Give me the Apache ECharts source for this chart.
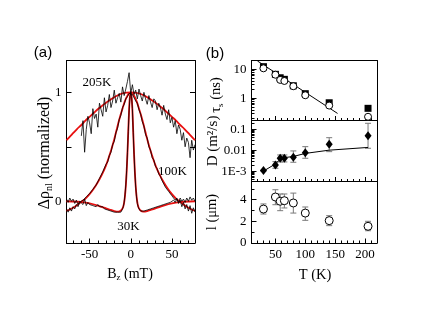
<!DOCTYPE html>
<html><head><meta charset="utf-8">
<script src="https://cdn.jsdelivr.net/npm/echarts@6/dist/echarts.min.js"></script>
<style>html,body{margin:0;padding:0;background:#fff}#c{width:436px;height:315px}</style>
</head><body><div id="c"></div>
<script>
// ===== Panel (a): B_z (mT) vs normalized Δρ_nl =====
const b205X = [-60,-58,-56,-54,-52,-50,-48,-46,-44,-42,-40,-38,-36,-34,-32,-30,-28,-26,-24,-22,-20,-18,-16,-14,-12,-10,-8,-6,-4,-2,0,2,4,6,8,10,12,14,16,18,20,22,24,26,28,30,32,34,36,38,40,42,44,46,48,50,52,54,56,58,60,62,64,66,68,70,72,74,76,78];
const b205Y = [0.60,0.74,0.45,0.66,0.78,0.72,0.62,0.85,0.76,0.80,
  0.68,0.90,0.84,0.78,0.95,0.82,0.88,0.98,0.86,0.92,
  1.02,0.90,0.95,0.99,0.91,1.05,0.97,1.03,1.10,1.18,
  0.99,1.07,0.98,1.02,0.94,1.03,0.97,0.92,1.00,0.94,
  0.89,0.97,0.91,0.86,0.94,0.92,0.84,0.90,0.86,0.79,
  0.88,0.80,0.75,0.84,0.72,0.77,0.68,0.74,0.62,0.70,
  0.66,0.56,0.63,0.50,0.58,0.54,0.40,0.56,0.47,0.52];
const b100X = [-78,-76,-74,-72,-70,-68,-66,-64,-62,-60,-58,-56,-54,-52,-50,-48,-46,-44,-42,-40,-38,-36,-34,-32,-30,-28,-26,-24,-22,-20,-18,-16,-14,-12,-10,-8,-6,-4,-2,0,2,4,6,8,10,12,14,16,18,20,22,24,26,28,30,32,34,36,38,40,42,44,46,48,50,52,54,56,58,60,62,64,66,68,70,72,74,76,78];
const b100Y = [-0.07,-0.10,-0.06,-0.09,-0.05,-0.07,-0.03,-0.05,-0.01,-0.02,
  0.01,0.00,0.04,0.03,0.07,0.07,0.11,0.11,0.15,0.16,
  0.21,0.22,0.27,0.28,0.34,0.36,0.42,0.45,0.52,0.55,
  0.63,0.67,0.75,0.79,0.86,0.89,0.94,0.96,0.99,1.00,
  0.98,0.97,0.92,0.90,0.84,0.80,0.73,0.69,0.61,0.58,
  0.50,0.47,0.40,0.38,0.32,0.30,0.25,0.23,0.19,0.18,
  0.13,0.13,0.09,0.09,0.05,0.05,0.01,0.03,-0.02,0.01,
  -0.05,-0.01,-0.07,-0.03,-0.09,-0.04,-0.11,-0.06,-0.10];
const b30X = [-78,-76,-74,-72,-70,-68,-66,-64,-62,-60,-58,-56,-54,-52,-50,-48,-46,-44,-42,-40,-38,-36,-34,-32,-30,-28,-26,-24,-22,-20,-18,-16,-14,-12,-10,
  -9,-8,-7,-6,-5,-4,-3,-2,-1,0,1,2,3,4,5,6,7,8,9,
  10,12,14,16,18,20,22,24,26,28,30,32,34,36,38,40,42,44,46,48,50,52,54,56,58,60,62,64,66,68,70,72,74,76,78];
const b30Y = [0.02,-0.01,0.03,0.00,0.02,-0.02,0.01,-0.03,0.00,0.01,
  -0.03,0.02,-0.04,-0.01,-0.03,-0.02,-0.04,-0.03,-0.05,-0.03,
  -0.05,-0.06,-0.05,-0.07,-0.06,-0.08,-0.07,-0.09,-0.08,-0.10,
  -0.09,-0.10,-0.09,-0.10,-0.07,
  -0.05,-0.01,0.06,0.15,0.28,0.45,0.64,0.83,0.95,1.00,0.96,0.85,0.63,0.43,0.26,0.13,0.04,-0.02,-0.05,
  -0.07,-0.09,-0.10,-0.09,-0.10,-0.08,-0.09,-0.07,-0.08,-0.06,
  -0.07,-0.05,-0.06,-0.04,-0.05,-0.03,-0.04,-0.02,-0.03,-0.01,
  -0.02,0.01,-0.01,0.02,-0.01,0.03,0.00,0.02,-0.01,0.03,
  0.00,0.04,0.01,0.03,0.00];
const fit205X = [-78,-75,-70,-65,-60,-55,-50,-45,-40,-35,-30,-25,-20,-15,-10,-5,0,5,10,15,20,25,30,35,40,45,50,55,60,65,70,75,78];
const fit205Y = [0.56,0.585,0.625,0.665,0.70,0.74,0.775,0.81,0.845,0.875,0.905,0.93,0.955,0.975,0.99,0.997,1.0,0.997,0.99,0.975,0.955,0.93,0.905,0.875,0.845,0.81,0.775,0.74,0.70,0.665,0.625,0.585,0.56];
const fit100X = [-78,-75,-70,-65,-60,-55,-50,-45,-40,-35,-30,-25,-20,-17.5,-15,-12.5,-10,-7.5,-5,-2.5,0,2.5,5,7.5,10,12.5,15,17.5,20,25,30,35,40,45,50,55,60,65,70,75,78];
const fit100Y = [-0.085,-0.08,-0.06,-0.035,-0.005,0.025,0.065,0.115,0.175,0.245,0.33,0.44,0.57,0.645,0.72,0.79,0.85,0.91,0.955,0.988,1.0,0.988,0.955,0.91,0.85,0.79,0.72,0.645,0.57,0.44,0.33,0.245,0.175,0.115,0.065,0.025,-0.005,-0.035,-0.06,-0.08,-0.085];
const fit30X = [-78,-70,-60,-50,-40,-30,-25,-20,-15,-12,-10,-9,-8,-7,-6,-5,-4,-3,-2,-1,0,1,2,3,4,5,6,7,8,9,10,12,15,20,25,30,40,50,60,70,78];
const fit30Y = [0,-0.002,-0.008,-0.02,-0.04,-0.065,-0.078,-0.09,-0.095,-0.085,-0.065,-0.045,-0.01,0.05,0.14,0.27,0.44,0.64,0.84,0.96,1.0,0.96,0.84,0.64,0.44,0.27,0.14,0.05,-0.01,-0.045,-0.065,-0.085,-0.095,-0.09,-0.078,-0.065,-0.04,-0.02,-0.008,-0.002,0];
const aXTicks = [-50, 0, 50];
const aXMinor = [-70,-60,-40,-30,-20,-10,10,20,30,40,60,70];
const aYTicks = [0, 0.5, 1];
const aYLabels = [0, 1];

// ===== Panel (b): temperature dependence =====
const T = [30, 50, 58, 65, 80, 100, 140, 205];
const tauSquare = [12.3, 6.7, 5.1, 4.5, 2.7, 1.44, 0.70, 0.45];
const tauCircle = [10.8, 6.5, 4.3, 3.95, 2.6, 1.27, 0.56, 0.23];
const tauFitT = [20, 154];
const tauFitV = [19.3, 0.30];
const D = [1.06e-3, 1.97e-3, 4.1e-3, 4.1e-3, 4.6e-3, 7.6e-3, 0.0191, 0.049];
const Dlow = [1.0e-3, 1.37e-3, 2.74e-3, 2.74e-3, 2.65e-3, 4.1e-3, 8.5e-3, 0.0123];
const Dhigh = [1.1e-3, 2.83e-3, 5.9e-3, 5.9e-3, 9.2e-3, 0.0147, 0.0394, 0.191];
const DfitT = [30, 50, 60, 65, 80, 100, 140, 205];
const DfitV = [1.0e-3, 2.2e-3, 4.2e-3, 4.4e-3, 5.0e-3, 7.0e-3, 0.0100, 0.0135];
const L = [3.13, 4.24, 3.85, 3.9, 3.69, 2.76, 2.06, 1.54];
const Llow = [2.67, 3.53, 2.98, 3.23, 2.76, 2.09, 1.6, 1.13];
const Lhigh = [3.6, 4.91, 4.52, 4.52, 4.6, 3.32, 2.52, 2.0];
const bXTicks = [50, 100, 150, 200];
const bXMinor = [20,30,40,60,70,80,90,110,120,130,140,160,170,180,190,210];
const tauTicks = [1, 10];
const tauTickLabels = ['1', '10'];
const dTicks = [0.001, 0.01, 0.1];
const dTickLabels = ['1E-3', '0.01', '0.1'];
const lTicks = [0, 2, 4];
const lMinor = [1, 3, 5];

// ===== helpers =====
const SERIF = "'Liberation Serif', 'DejaVu Serif', serif";
const SANS = "'Liberation Sans', Arial, sans-serif";
const zip = (xs, ys) => xs.map((x, i) => [x, ys[i]]);
const lg = Math.log10;
function minorLog(lo, hi) {
  const out = [];
  for (let e = Math.floor(lg(lo)); e <= Math.ceil(lg(hi)); e++) {
    for (let k = 2; k <= 9; k++) { const v = k * Math.pow(10, e); if (v > lo && v < hi) out.push(lg(v)); }
  }
  return out;
}
function ax(gridIndex, position, min, max, o) {
  o = o || {};
  const a = {
    type: o.type || 'value', gridIndex, position, min, max,
    splitLine: {show: false}, minorTick: {show: false}, minorSplitLine: {show: false},
    axisLine: {show: !!o.line, onZero: false, lineStyle: {color: '#000', width: 1}},
    axisTick: o.ticks ? {show: true, inside: true, length: o.tickLen || 5, customValues: o.ticks, lineStyle: {color: '#000', width: 1}} : {show: false},
    axisLabel: {show: false},
    axisPointer: {show: false}, silent: true
  };
  if (o.type === 'log') a.logBase = 10;
  if (o.labels) {
    a.axisLabel = {show: true, customValues: o.labels, margin: o.margin || 5, color: '#000',
      fontFamily: SERIF, fontSize: 13, hideOverlap: false};
    if (o.formatter) a.axisLabel.formatter = o.formatter;
  }
  return a;
}
function logLabel(ticks, labels) {
  return v => { const i = ticks.findIndex(t => Math.abs(lg(t) - v) < 1e-6); return i >= 0 ? labels[i] : ''; };
}
function errBars(xi, yi, lo, hi) {
  return {
    type: 'custom', xAxisIndex: xi, yAxisIndex: yi, silent: true, z: 2,
    data: T.map((t, i) => [t, lo[i], hi[i]]),
    encode: {x: 0, y: [1, 2]},
    renderItem: (params, api) => {
      const x = api.value(0);
      const p1 = api.coord([x, api.value(1)]);
      const p2 = api.coord([x, api.value(2)]);
      const w = 3, st = {stroke: '#7a7a7a', lineWidth: 1};
      return {type: 'group', children: [
        {type: 'line', shape: {x1: p1[0], y1: p1[1], x2: p2[0], y2: p2[1]}, style: st},
        {type: 'line', shape: {x1: p1[0] - w, y1: p1[1], x2: p1[0] + w, y2: p1[1]}, style: st},
        {type: 'line', shape: {x1: p2[0] - w, y1: p2[1], x2: p2[0] + w, y2: p2[1]}, style: st}
      ]};
    }
  };
}
const line = (xi, yi, data, color, width, smooth, z) => ({
  type: 'line', xAxisIndex: xi, yAxisIndex: yi, data, symbol: 'none', smooth: smooth || false,
  lineStyle: {color, width}, silent: true, z: z || 2
});
const scat = (xi, yi, data, symbol, size, fill, z) => ({
  type: 'scatter', xAxisIndex: xi, yAxisIndex: yi, data, symbol, symbolSize: size, silent: true, z: z || 3,
  itemStyle: {color: fill, borderColor: '#000', borderWidth: fill === '#000' ? 0 : 1, opacity: 1}
});

// axis ranges
const aX = [-78, 78], aY = [-0.383, 1.292];
const bX = [10, 220];
const tauR = [0.171, 20.1], dR = [3.2e-4, 0.26], lR = [0, 5.67];

const xAxis = [
  ax(0, 'bottom', aX[0], aX[1], {line: true, ticks: aXTicks, tickLen: 4.5, labels: aXTicks, margin: 5}),
  ax(0, 'bottom', aX[0], aX[1], {ticks: aXMinor, tickLen: 2.5}),
  ax(0, 'top', aX[0], aX[1], {line: true}),
  ax(1, 'bottom', bX[0], bX[1], {line: true, ticks: bXTicks, tickLen: 4.5}),
  ax(1, 'bottom', bX[0], bX[1], {ticks: bXMinor, tickLen: 2.5}),
  ax(1, 'top', bX[0], bX[1], {line: true}),
  ax(2, 'bottom', bX[0], bX[1], {line: true, ticks: bXTicks, tickLen: 4.5}),
  ax(2, 'bottom', bX[0], bX[1], {ticks: bXMinor, tickLen: 2.5}),
  ax(3, 'bottom', bX[0], bX[1], {line: true, ticks: bXTicks, tickLen: 4.5, labels: bXTicks, margin: 5}),
  ax(3, 'bottom', bX[0], bX[1], {ticks: bXMinor, tickLen: 2.5})
];
const yAxis = [
  ax(0, 'left', aY[0], aY[1], {line: true, ticks: aYTicks, tickLen: 5, labels: aYLabels, margin: 5}),
  ax(0, 'right', aY[0], aY[1], {line: true, ticks: aYTicks, tickLen: 5}),
  ax(1, 'left', tauR[0], tauR[1], {type: 'log', line: true}),
  ax(1, 'left', lg(tauR[0]), lg(tauR[1]), {ticks: tauTicks.map(lg), tickLen: 5, labels: tauTicks.map(lg), margin: 5, formatter: logLabel(tauTicks, tauTickLabels)}),
  ax(1, 'left', lg(tauR[0]), lg(tauR[1]), {ticks: minorLog(tauR[0], tauR[1]), tickLen: 3}),
  ax(1, 'right', tauR[0], tauR[1], {type: 'log', line: true}),
  ax(2, 'left', dR[0], dR[1], {type: 'log', line: true}),
  ax(2, 'left', lg(dR[0]), lg(dR[1]), {ticks: dTicks.map(lg), tickLen: 5, labels: dTicks.map(lg), margin: 5, formatter: logLabel(dTicks, dTickLabels)}),
  ax(2, 'left', lg(dR[0]), lg(dR[1]), {ticks: minorLog(dR[0], dR[1]), tickLen: 3}),
  ax(2, 'right', dR[0], dR[1], {type: 'log', line: true}),
  ax(3, 'left', lR[0], lR[1], {line: true, ticks: lTicks, tickLen: 5, labels: lTicks, margin: 5}),
  ax(3, 'left', lR[0], lR[1], {ticks: lMinor, tickLen: 3}),
  ax(3, 'right', lR[0], lR[1], {line: true})
];

const RED = '#e81010';
const series = [
  line(0, 0, zip(fit205X, fit205Y), RED, 1.8, 0.3, 2),
  line(0, 0, zip(fit100X, fit100Y), RED, 1.8, 0.3, 2),
  line(0, 0, zip(fit30X, fit30Y), RED, 1.8, 0.2, 2),
  line(0, 0, zip(b205X, b205Y), '#000', 0.8, false, 3),
  line(0, 0, zip(b100X, b100Y), '#000', 0.8, false, 3),
  line(0, 0, zip(b30X, b30Y), '#000', 0.8, false, 3),
  line(3, 2, zip(tauFitT, tauFitV), '#000', 1),
  scat(3, 2, zip(T, tauSquare), 'rect', 7, '#000', 3),
  scat(3, 2, zip(T, tauCircle), 'circle', 7, '#fff', 4),
  line(6, 6, zip(DfitT, DfitV), '#000', 1),
  errBars(6, 6, Dlow, Dhigh),
  scat(6, 6, zip(T, D), 'diamond', [7, 9], '#000', 3),
  errBars(8, 10, Llow, Lhigh),
  scat(8, 10, zip(T, L), 'circle', 8, '#fff', 3)
];

const txt = (x, y, text, size, family) => ({
  type: 'text', x, y, silent: true,
  style: {text, fontSize: size, fontFamily: family || SERIF, fill: '#000', align: 'center', verticalAlign: 'middle',
          textAlign: 'center', textVerticalAlign: 'middle'}
});
const richTxt = (x, y, text, size, rot) => ({
  type: 'text', x, y, rotation: rot ? Math.PI / 2 : 0, silent: true,
  style: {
    text, fill: '#000', align: 'center', verticalAlign: 'middle', textAlign: 'center', textVerticalAlign: 'middle',
    rich: {
      n: {fontSize: size, fontFamily: SERIF, fill: '#000', lineHeight: size + 3},
      s: {fontSize: Math.round(size * 0.62), fontFamily: SERIF, fill: '#000', lineHeight: Math.round(size * 0.62), verticalAlign: 'bottom'}
    }
  }
});

const graphic = [
  txt(43, 53, '(a)', 15, SANS),
  txt(215, 54, '(b)', 15, SANS),
  txt(97, 82.5, '205K', 13),
  txt(172.5, 171.5, '100K', 13),
  txt(128.5, 226.5, '30K', 13),
  richTxt(130, 274, '{n|B}{s|z}{n| (mT)}', 14, false),
  richTxt(315, 275, '{n|T (K)}', 14.5, false),
  richTxt(45, 153, '{n|Δρ}{s|nl}{n| (normalized)}', 16, true),
  richTxt(216, 95, '{n|τ}{s|s}{n| (ns)}', 14.5, true),
  richTxt(213, 141, '{n|D (m²/s)}', 15, true),
  richTxt(212, 212, '{n|l (μm)}', 14.5, true)
];

const chart = echarts.init(document.getElementById('c'), null, {renderer: 'canvas', width: 436, height: 315});
chart.setOption({
  animation: false,
  backgroundColor: '#fff',
  grid: [
    {left: 66.5, top: 60.5, width: 128.5, height: 182.5, outerBoundsMode: 'none', containLabel: false},
    {left: 251.5, top: 60.5, width: 125.5, height: 60, outerBoundsMode: 'none', containLabel: false},
    {left: 251.5, top: 120.5, width: 125.5, height: 61, outerBoundsMode: 'none', containLabel: false},
    {left: 251.5, top: 181.5, width: 125.5, height: 61.5, outerBoundsMode: 'none', containLabel: false}
  ],
  xAxis, yAxis, series, graphic
});
</script>
</body></html>
